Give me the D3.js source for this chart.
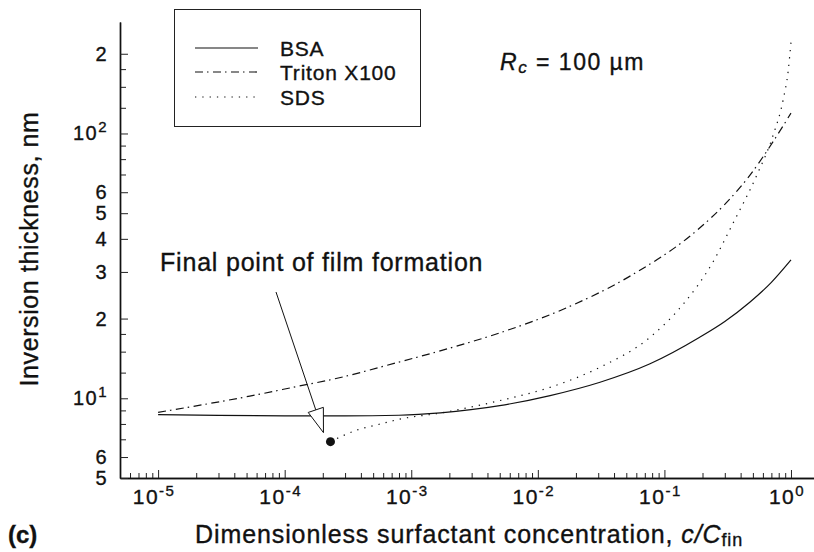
<!DOCTYPE html>
<html>
<head>
<meta charset="utf-8">
<script src="https://cdn.jsdelivr.net/npm/d3@7"></script>
<style>
  body { margin: 0; background: #fff; }
  text { font-family: "Liberation Sans", Arial, Helvetica, sans-serif; fill: #111; stroke: #111; stroke-width: 0.35px; }
</style>
</head>
<body>
<div id="chart"></div>
<script>
// values (x = c/C_fin, y = thickness in nm)
const bsaC = [1e-5, 3e-5, 1e-4, 3e-4, 8e-4, 1.7e-3, 5e-3, 1.25e-2, 3.1e-2, 7.7e-2, 0.19, 0.3, 0.47, 0.7, 1.0];
const bsaH = [8.68, 8.62, 8.58, 8.58, 8.63, 8.81, 9.38, 10.24, 11.5, 13.5, 17.0, 19.5, 23.0, 27.4, 33.3];

const tritonC = [1e-5, 2.1e-5, 5.3e-5, 1.3e-4, 2.4e-4, 8e-4, 2e-3, 5e-3, 1.7e-2, 5.6e-2, 0.18, 0.3, 0.45, 0.72, 1.0];
const tritonH = [8.85, 9.4, 10.19, 11.12, 11.8, 13.7, 15.45, 17.66, 22.0, 29.3, 43.0, 54.0, 67.4, 92.9, 119.4];

const sdsC = [2.3e-4, 3.8e-4, 5.5e-4, 8e-4, 1.7e-3, 5e-3, 1.25e-2, 3.1e-2, 7.7e-2, 0.14, 0.24, 0.35, 0.54, 0.72, 0.87, 0.95, 1.0];
const sdsH = [6.86, 7.61, 7.96, 8.33, 8.8, 9.8, 11.0, 13.1, 17.0, 22.6, 32.5, 46, 70, 98, 135, 172, 221];

const seriesNames = ["BSA", "Triton X100", "SDS"];

// axis ticks
const xMajor = [1e-5, 1e-4, 1e-3, 1e-2, 1e-1, 1];
const xExp = ["-5", "-4", "-3", "-2", "-1", "0"];
const yLabelled = [5, 6, 10, 20, 30, 40, 50, 60, 100, 200];
const yLabels = ["5", "6", "10|1", "2", "3", "4", "5", "6", "10|2", "2"];
const yMinor = [7, 8, 9, 12.5, 15, 17.5, 70, 80, 90, 125, 150, 175];

const width = 814, height = 552;

const svg = d3.select("#chart")
  .append("svg")
    .attr("width", width)
    .attr("height", height);

const x = d3.scaleLog()
  .domain([5e-6, 1.52])
  .range([120, 814]);
const y = d3.scaleLog()
  .domain([5, 263.6])
  .range([478, 22]);

// minor x ticks 2..9 per decade
const xMinor = [];
for (let e = -6; e <= 0; e++) {
  for (let k = 2; k <= 9; k++) {
    const v = k * Math.pow(10, e);
    if (v > 5.5e-6 && v < 1.5) xMinor.push(v);
  }
}

// ---- x axis
const xAxisG = svg.append("g")
  .attr("transform", `translate(0, ${y.range()[0]})`);
xAxisG.append("g")
  .call(d3.axisBottom(x).tickValues(xMinor).tickSize(-5).tickSizeOuter(0).tickFormat(""));
xAxisG.append("g")
  .call(d3.axisBottom(x).tickValues(xMajor).tickSize(-8).tickSizeOuter(0).tickFormat(""));
xAxisG.selectAll("path.domain").attr("stroke", "#111").attr("stroke-width", 1.4);
xAxisG.selectAll(".tick line").attr("stroke", "#222").attr("stroke-width", 1);

svg.append("g").selectAll("text")
  .data(xMajor)
  .enter()
  .append("text")
    .attr("x", d => x(d) - 4)
    .attr("y", 504)
    .attr("text-anchor", "middle")
    .style("font-size", "21px")
    .style("letter-spacing", "1.5px")
    .each(function(d, i) {
      const t = d3.select(this);
      t.append("tspan").text("10");
      t.append("tspan").attr("dy", -8).style("font-size", "15px").text(xExp[i]);
    });

// ---- y axis
const yAxisG = svg.append("g")
  .attr("transform", `translate(${x.range()[0]}, 0)`);
yAxisG.append("g")
  .call(d3.axisLeft(y).tickValues(yMinor).tickSize(-6).tickSizeOuter(0).tickFormat(""));
yAxisG.append("g")
  .call(d3.axisLeft(y).tickValues(yLabelled).tickSize(-8).tickSizeOuter(0).tickFormat(""));
yAxisG.selectAll("path.domain").attr("stroke", "#111").attr("stroke-width", 1.4);
yAxisG.selectAll(".tick line").attr("stroke", "#222").attr("stroke-width", 1);

svg.append("g").selectAll("text")
  .data(yLabelled)
  .enter()
  .append("text")
    .attr("x", 108)
    .attr("y", d => y(d) + 7)
    .attr("text-anchor", "end")
    .style("font-size", "20px")
    .style("letter-spacing", "1.5px")
    .each(function(d, i) {
      const t = d3.select(this);
      const parts = yLabels[i].split("|");
      t.append("tspan").text(parts[0]);
      if (parts[1]) t.append("tspan").attr("dy", -8).style("font-size", "15px").text(parts[1]);
    });

// ---- curves
const line = d3.line()
  .x(d => x(d[0]))
  .y(d => y(d[1]))
  .curve(d3.curveMonotoneX);

const styles = [
  { dash: null },
  { dash: "8,4,1.5,4.5" },
  { dash: "1.3,6" }
];
const series = [
  d3.zip(bsaC, bsaH),
  d3.zip(tritonC, tritonH),
  d3.zip(sdsC, sdsH)
];

svg.append("g").selectAll("path")
  .data(series)
  .enter()
  .append("path")
    .attr("d", d => line(d))
    .attr("fill", "none")
    .attr("stroke", "#111")
    .attr("stroke-width", 1.2)
    .attr("stroke-dasharray", (d, i) => styles[i].dash);

// final point marker
const dotX = x(sdsC[0]), dotY = y(sdsH[0]);
svg.append("circle")
  .attr("cx", dotX)
  .attr("cy", dotY)
  .attr("r", 4.5)
  .attr("fill", "#111");

// annotation arrow with hollow head
const tail = [276, 292];
const tip = [dotX - 7, dotY - 9];
const dx = tip[0] - tail[0], dy = tip[1] - tail[1];
const len = Math.hypot(dx, dy);
const ux = dx / len, uy = dy / len;
const headLen = 24, headHalf = 8;
const base = [tip[0] - ux * headLen, tip[1] - uy * headLen];
svg.append("line")
  .attr("x1", tail[0]).attr("y1", tail[1])
  .attr("x2", base[0]).attr("y2", base[1])
  .attr("stroke", "#111")
  .attr("stroke-width", 1);
svg.append("path")
  .attr("d", d3.line()([
    tip,
    [base[0] + uy * headHalf, base[1] - ux * headHalf],
    [base[0] - uy * headHalf, base[1] + ux * headHalf]
  ]) + "Z")
  .attr("fill", "#fff")
  .attr("stroke", "#111")
  .attr("stroke-width", 1);

svg.append("text")
  .attr("x", 160)
  .attr("y", 271)
  .style("font-size", "25px")
  .style("letter-spacing", "0.8px")
  .text("Final point of film formation");

// ---- legend
const legend = svg.append("g").attr("id", "legend");
legend.append("rect")
  .attr("x", 174.5).attr("y", 9.5)
  .attr("width", 246).attr("height", 117)
  .attr("fill", "#fff")
  .attr("stroke", "#222")
  .attr("stroke-width", 1);
const legendRows = [48, 72, 97];
seriesNames.forEach((name, i) => {
  legend.append("line")
    .attr("x1", 195).attr("x2", 258)
    .attr("y1", legendRows[i]).attr("y2", legendRows[i])
    .attr("stroke", "#111")
    .attr("stroke-width", 1.2)
    .attr("stroke-dasharray", styles[i].dash);
  legend.append("text")
    .attr("x", 280)
    .attr("y", legendRows[i] + 7.5)
    .style("font-size", "21px")
    .style("letter-spacing", "0.8px")
    .text(name);
});

// R_c label
const rc = svg.append("text")
  .attr("x", 500)
  .attr("y", 70)
  .style("font-size", "23px")
  .style("letter-spacing", "1.5px");
rc.append("tspan").style("font-style", "italic").text("R");
rc.append("tspan").attr("dy", 3).style("font-style", "italic").style("font-size", "17px").text("c");
rc.append("tspan").attr("dy", -3).text(" = 100 \u00b5m");

// ---- axis titles
svg.append("text")
  .attr("transform", "translate(38, 249) rotate(-90)")
  .attr("text-anchor", "middle")
  .style("font-size", "25px")
  .style("letter-spacing", "0.6px")
  .text("Inversion thickness, nm");

const xt = svg.append("text")
  .attr("x", 195)
  .attr("y", 543)
  .style("font-size", "25px")
  .style("letter-spacing", "0.9px");
xt.append("tspan").text("Dimensionless surfactant concentration, ");
xt.append("tspan").style("font-style", "italic").text("c/C");
xt.append("tspan").attr("dy", 3).style("font-size", "18px").text("fin");

svg.append("text")
  .attr("x", 8)
  .attr("y", 543)
  .style("font-size", "24px")
  .style("font-weight", "bold")
  .text("(c)");
</script>
</body>
</html>
